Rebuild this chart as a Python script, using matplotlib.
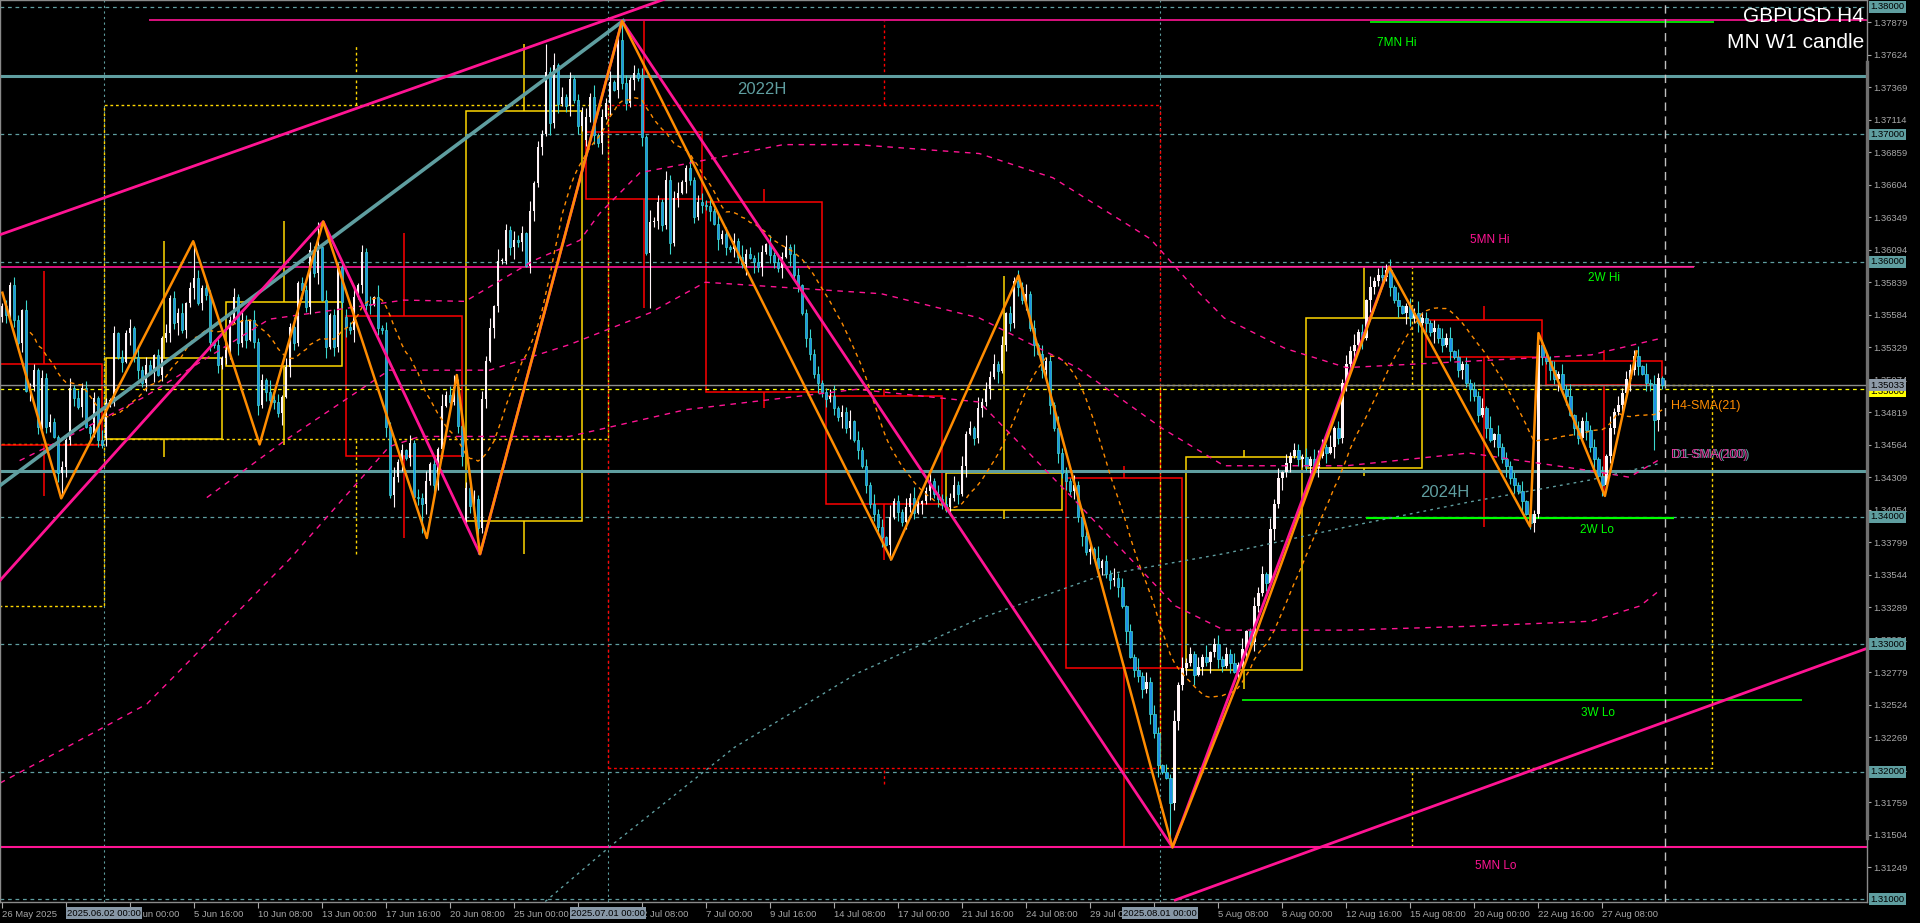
import numpy as np
import pandas as pd
import matplotlib
matplotlib.use("Agg")
import matplotlib.pyplot as plt
from matplotlib import transforms
from matplotlib.patches import Rectangle

# ---- H4 candles: closes in pips above 1.3000, one row ~ one trading day
closes = [
    565, 558, 582, 554, 536, 562, 499, 502, 515, 470.6, 508.5, 470.6, 474.5,
    462.8, 434, 439, 460, 500.7, 492.8, 486.3, 500.7, 470.6, 465.4, 492.8, 460, 456.2,
    489, 491.5, 543.9, 525.5, 521.6, 543.9, 547.8, 525.5, 515.1, 504.6,
    519, 513.8, 526.9, 511.2, 540, 543.9, 571.3, 551.7, 559.6, 546.5, 567.4, 579.2,
    587, 567.4, 579.2, 574, 537.3, 534.7, 519, 524.2, 530.8, 554.3, 572.6, 536,
    554.3, 538.6, 554.3, 537.3, 487.6, 507.2, 498.1, 491.5, 490.2, 481.1, 494.2,
    517.7, 549.1, 536, 583.1, 577.9, 564.8, 609.3, 591, 611.9, 570, 533.4, 558.2,
    533.4, 596.2, 568.7, 549.1, 546.5, 572.6, 581.8, 608, 566.1, 566, 572.6, 547.8,
    546.5, 470.6, 417, 431.4, 443.2, 452.3, 445.8, 457.5, 415.7, 414.4, 410.2,
    427.7, 441, 425, 453.4, 487.2, 495.3, 489.9, 502, 471, 448, 422.3, 408.8,
    414.2, 391.3, 492.6, 522.3, 548, 565.5, 600.7, 601, 625, 611.5, 616.9, 615.5,
    622.3, 596.6, 639.8, 661.5, 689.8, 700.6, 749.3, 708.7, 754.7, 723.6, 729.6,
    722.3, 743.2, 727, 706.6, 717.9, 714, 729.6, 699.5, 693, 714, 724.4, 741.4,
    734.9, 774.1, 740, 724.4, 742.7, 748.5, 744, 698.2, 606.7, 631.5, 632, 647.2,
    628.9, 664.2, 614.5, 649.9, 654.3, 662.9, 673.4, 664.2, 635.5, 647.2, 644.6,
    644, 640, 630, 618, 622, 612,
    610, 616, 604, 598, 606, 603,
    600, 596, 608, 614, 605, 600,
    595, 604, 612, 606, 590, 582,
    560, 540, 528, 512, 505, 498,
    492, 495, 485, 478, 482, 470,
    475, 460, 452, 440, 425, 410,
    402, 392, 384, 378, 400, 412,
    404, 396, 408, 415, 403, 410,
    412, 420, 428, 418, 414, 410,
    408, 415, 425, 418, 440, 465,
    470, 462, 485, 490, 500, 510,
    520, 514, 535, 560, 552, 585,
    580, 570, 575, 548, 535, 528,
    515, 522, 488, 470, 450, 434,
    428, 420, 425, 400, 385, 372,
    375, 368, 360, 365, 355, 350,
    352, 345, 330, 310, 290, 280,
    275, 265, 270, 245, 230, 205,
    200, 195, 175, 240, 268, 281,
    285, 292, 276, 282, 290, 286,
    294, 300, 288, 283, 292, 285,
    278, 284, 296, 310, 302, 330,
    340, 355, 348, 390, 410, 430,
    435, 442, 448, 452, 445, 447,
    440, 445, 438, 448, 455, 450,
    455, 470, 462, 505, 520, 530,
    535, 545, 540, 570, 580, 585,
    590, 588, 594, 580, 570, 565,
    560, 565, 556, 560, 552, 556,
    552, 545, 548, 540, 535, 540,
    530, 525, 515, 520, 505, 500,
    495, 480, 485, 470, 460, 465,
    455, 445, 440, 430, 425, 420,
    412, 402, 395, 402, 535, 525,
    522, 515, 508, 512, 500, 495,
    480, 470, 462, 475, 468, 455,
    445, 432, 425, 448, 470, 482,
    488, 497, 508, 515, 526, 518,
    512, 505, 504, 476, 508.6, 503.3,
]
first_open = 557
open_gaps = {26: 461.5, 86: 556.9, 116: 397.0, 146: 695.6}

# wick lengths in pips, one group per week
wick_up = ("352641 835274 631528 374615 28"
           "426153 728364 152736 481527 364152"
           "537264 183529 461738 254637 182534"
           "648253 719364 825173 648251 937462"
           "527364 819253 746182 537491 826354"
           "739264 815372 648193 527468 139257"
           "462835 173946 285173 649285 137462"
           "358264 917352 846193 527486 139274"
           "647382 519364 827153 948261 735294"
           "528374 619253 847162 938475 163829"
           "463829 157364 829137 562948 173652"
           "738462 915374 826193 574826 137495"
           "526384 917253 648291 736452 819374"
           "647283 915374 628193 746528 193742")
wick_dn = ("462537 183625 417384 628173 52"
           "635281 947362 815374 926381 547263"
           "472936 158274 639185 274638 192745"
           "839264 715382 947163 528394 716258"
           "362947 185236 947158 362947 158264"
           "547382 916453 827194 653827 194536"
           "381947 265381 947265 381946 275384"
           "625384 917263 548192 736451 827364"
           "473829 164738 291564 738291 657384"
           "736482 915637 482916 573849 216574"
           "528163 947528 163947 526183 947256"
           "463728 195463 728195 463728 196475"
           "739462 815739 462815 739462 815736"
           "284937 165284 937165 283947 165293")
spike_high = {48: 615.8, 79: 631.5, 113: 511, 136: 771, 155: 788.5, 254: 589,
              346: 596, 384: 544, 408: 531}
spike_low = {15: 415.7, 105: 387, 119: 371, 162: 564, 222: 366, 292: 141,
             382: 392, 400: 416, 413: 452}

# weekly candles (boxes)
week_start = [-4, 26, 56, 86, 116, 146, 176, 206, 236, 266, 296, 326, 356, 386]
week_open = [520, 461, 518, 557.5, 396.6, 701.7, 647, 495, 405, 430, 280, 438.5, 554, 522]
week_close = [456, 524.5, 568.5, 447.6, 718, 649.6, 498, 410, 434, 281, 447, 555.6, 525, 503.3]
week_high = [593, 616, 632, 622.6, 771, 789, 657, 500, 589, 440, 452, 596, 565, 531]
week_low = [416, 447, 456, 383, 371, 564, 485, 366, 398, 141, 265, 432, 392, 416]

# monthly candles (dotted boxes)
month_start = [-100, 26, 152, 290]
month_end = [26, 152, 290, 428]
month_open = [330, 461, 723, 203]
month_close = [457, 723, 203, 503.3]
month_high = [593, 770, 789, 596]
month_low = [310, 371, 190, 141]

# zigzags (bar, pips)
zz_orange_bar = [0.1, 14.8, 47.8, 64.4, 80.3, 106.2, 113.7, 119.5, 155, 222.3, 254.1,
                 292.6, 310.4, 346.8, 382, 384.1, 400.7, 408.6]
zz_orange_val = [575.8, 414.4, 616.2, 456.7, 631.6, 383.3, 511.2, 370.7, 789, 366.4, 589.3,
                 140.6, 281.8, 596, 392.3, 544.1, 416.3, 529.7]
zz_pink_bar = [-0.5, 80.3, 119.5, 155, 292.6, 346.8]
zz_pink_val = [350, 631.6, 370.7, 789, 140.6, 596]

# trend lines (bar, pips)
tl_upper_bar, tl_upper_val = [-0.5, 170], [621.3, 811]
tl_lower_bar, tl_lower_val = [293.3, 470], [99.2, 301]
tl_cadet_bar, tl_cadet_val = [-0.5, 155.3], [424.5, 789.2]

# daily moving averages (bar, pips)
ma_a_bar = [4.4, 17.9, 35.6, 66.8, 100.5, 115.8, 132.9, 144.5, 149.4, 159.5, 172.7, 195.3,
            213.7, 244.3, 262.7, 287.1, 297.9, 305.5, 320.8, 336.1, 366.7, 397.3, 414.7]
ma_a_val = [444, 465, 494, 555, 570, 569, 601, 617, 638, 670, 678, 692,
            692, 685, 666, 618, 580, 556, 532, 517, 522, 527, 540]
ma_b_bar = [51.2, 70.8, 96.8, 121.9, 141.8, 162, 175.8, 195.3, 219.8, 244.3, 268.8, 290.2,
            305.5, 336.1, 366.7, 397.3, 406.8, 414.4]
ma_b_val = [415, 460, 515, 515, 535, 560, 584, 580, 575, 556, 517, 469,
            440, 440, 450, 436, 431, 445]
ma_c_bar = [-0.5, 36.2, 72, 96.8, 104.5, 141.8, 170.9, 213.7, 244.3, 265.7, 293.3, 305.5,
            336.1, 366.7, 397.3, 409.5, 414.7]
ma_c_val = [191, 253, 367, 455, 463, 463, 484, 500, 490, 421, 330, 311,
            311, 314, 318, 330, 343]
ma_e_bar = [121.9, 152.5, 183.1, 213.7, 244.3, 274.9, 305.5, 336.1, 366.7, 397.3, 414.7]
ma_e_val = [61, 142.5, 219, 277, 320, 354, 371, 392, 411.5, 429, 442]

# axis labels (empty where the label sits under a month marker)
time_tick_labels = ["26 May 2025", "", "3 Jun 00:00", "5 Jun 16:00", "10 Jun 08:00",
                    "13 Jun 00:00", "17 Jun 16:00", "20 Jun 08:00", "25 Jun 00:00", "",
                    "2 Jul 08:00", "7 Jul 00:00", "9 Jul 16:00", "14 Jul 08:00", "17 Jul 00:00",
                    "21 Jul 16:00", "24 Jul 08:00", "29 Jul 00:00", "", "5 Aug 08:00",
                    "8 Aug 00:00", "12 Aug 16:00", "15 Aug 08:00", "20 Aug 00:00", "22 Aug 16:00",
                    "27 Aug 08:00"]
month_marks = ["2025.06.02 00:00", "2025.07.01 00:00", "2025.08.01 00:00"]
month_mark_bars = [26, 152, 290]
price_ticks = [1.37879, 1.37624, 1.37369, 1.37114, 1.36859, 1.36604, 1.36349, 1.36094,
               1.35839, 1.35584, 1.35329, 1.35074, 1.34819, 1.34564, 1.34309, 1.34054,
               1.33799, 1.33544, 1.33289, 1.33034, 1.32779, 1.32524, 1.32269, 1.32014,
               1.31759, 1.31504, 1.31249]
round_levels = [1.38, 1.37, 1.36, 1.34, 1.33, 1.32, 1.31]
bid = 1.35033

BG = "black"
PINK = "#FF1493"
CADET = "#5F9EA0"
ORANGE = "#FF8C00"
GOLD = "#FFD700"
RED = "#FF0000"
GREEN = "#00FF00"
AXIS = "#A8A8A8"
BULL = "#FFF4F7"
BEAR = "#1E90E8"
BEAR_W = "#3CD8D0"
SANS = ["Liberation Sans", "DejaVu Sans"]


def px(v):
    return 1.3 + np.asarray(v, dtype=float) / 1e4


c = np.array(closes, dtype=float)
n = len(c)
o = np.r_[first_open, c[:-1]]
for b, v in open_gaps.items():
    o[b] = v
up = np.array([int(ch) for ch in wick_up.replace(" ", "")][:n], dtype=float)
dn = np.array([int(ch) for ch in wick_dn.replace(" ", "")][:n], dtype=float)
hi = np.maximum(o, c) + up
lo = np.minimum(o, c) - dn
for b, v in spike_high.items():
    hi[b] = max(hi[b], v)
for b, v in spike_low.items():
    lo[b] = min(lo[b], v)
x = np.arange(n)

fig = plt.figure(figsize=(19.2, 9.23), dpi=100, facecolor=BG)
ax = fig.add_axes([0.0, 21 / 923, 1866.5 / 1920, 902 / 923], facecolor=BG)
ax.set_xlim(-0.5, 466.1)
ax.set_ylim(1.309766, 1.380549)

# period separators
for b in month_mark_bars:
    ax.axvline(b - 0.5, color=CADET, lw=0.8, ls=(0, (2, 3)), zorder=0.5)

# monthly boxes
for s, e, mo, mc, mh, ml in zip(month_start, month_end, month_open, month_close, month_high, month_low):
    col = GOLD if mc >= mo else RED
    ax.add_patch(Rectangle((s - 0.5, px(min(mo, mc))), e - s, px(max(mo, mc)) - px(min(mo, mc)),
                           fill=False, ec=col, lw=1, ls=(0, (2, 2)), zorder=0.8))
    mid = (s + min(e, n) - 1) / 2
    ax.vlines(mid, px(max(mo, mc)), px(mh), color=col, lw=1, ls=(0, (2, 2)), zorder=0.8)
    ax.vlines(mid, px(ml), px(min(mo, mc)), color=col, lw=1, ls=(0, (2, 2)), zorder=0.8)

# weekly boxes
for s, wo, wc, wh, wl in zip(week_start, week_open, week_close, week_high, week_low):
    col = GOLD if wc >= wo else RED
    ax.add_patch(Rectangle((s, px(min(wo, wc))), 29, px(max(wo, wc)) - px(min(wo, wc)),
                           fill=False, ec=col, lw=1.1, zorder=1))
    ax.vlines(s + 14.5, px(max(wo, wc)), px(wh), color=col, lw=1.1, zorder=1)
    ax.vlines(s + 14.5, px(wl), px(min(wo, wc)), color=col, lw=1.1, zorder=1)

# horizontal levels
for lv in round_levels:
    ax.axhline(lv, color=CADET, lw=0.9, ls=(0, (3, 3)), zorder=1.2)
ax.axhline(1.35, color="#FFFF00", lw=0.9, ls=(0, (3, 3)), zorder=1.2)
ax.axhline(bid, color="#8C8C8C", lw=1, zorder=1.2)
ax.axhline(1.37458, color=CADET, lw=2.2, zorder=1.3)
ax.axhline(1.34356, color=CADET, lw=2.2, zorder=1.3)
ax.axhline(1.31408, color=PINK, lw=1.5, zorder=1.3)
ax.hlines(1.35958, -0.5, 423, color=PINK, lw=1.2, zorder=1.3)
ax.hlines(1.3597, 241, 423, color="#C8C8C8", lw=0.8, zorder=1.25)
ax.hlines(1.3790, 36.8, 466.1, color=PINK, lw=1.2, zorder=1.3)
ax.hlines(1.3788, 342, 428, color=GREEN, lw=1.2, zorder=1.3)
ax.hlines(1.3399, 341, 418, color=GREEN, lw=1.6, zorder=1.3)
ax.hlines(1.32559, 310, 450, color=GREEN, lw=1.2, zorder=1.3)

# candles
bull = c >= o
bear = ~bull
body_h = np.maximum(np.abs(c - o), 0.8) / 1e4
ax.vlines(x[bull], px(lo[bull]), px(hi[bull]), color=BULL, lw=0.8, zorder=2)
ax.vlines(x[bear], px(lo[bear]), px(hi[bear]), color=BEAR_W, lw=0.8, zorder=2)
ax.bar(x[bull], body_h[bull], bottom=px(o[bull]), width=0.72, color=BULL, lw=0, zorder=2.1)
ax.bar(x[bear], body_h[bear], bottom=px(c[bear]), width=0.72, facecolor=BEAR, edgecolor=BEAR_W,
       lw=0.5, zorder=2.1)

# moving averages
sma21 = pd.Series(c).rolling(21, min_periods=8).mean()
ax.plot(x, px(sma21), color=ORANGE, lw=1, ls=(0, (3, 3)), zorder=2.5)
ax.plot(ma_a_bar, px(ma_a_val), color=PINK, lw=1, ls=(0, (4, 4)), zorder=2.5)
ax.plot(ma_b_bar, px(ma_b_val), color=PINK, lw=1, ls=(0, (4, 4)), zorder=2.5)
ax.plot(ma_c_bar, px(ma_c_val), color=PINK, lw=1, ls=(0, (4, 4)), zorder=2.5)
ax.plot(ma_e_bar, px(ma_e_val), color=CADET, lw=1, ls=(0, (2, 3)), zorder=2.5)

# trend lines and zigzags
ax.plot(tl_cadet_bar, px(tl_cadet_val), color=CADET, lw=2.6, zorder=3)
ax.plot(tl_upper_bar, px(tl_upper_val), color=PINK, lw=2, zorder=3)
ax.plot(tl_lower_bar, px(tl_lower_val), color=PINK, lw=2, zorder=3)
ax.plot(zz_pink_bar, px(zz_pink_val), color=PINK, lw=2, zorder=3.1)
ax.plot(zz_orange_bar, px(zz_orange_val), color=ORANGE, lw=1.8, zorder=3.2)

# current time line
ax.axvline(n - 0.25, color="#C0C0C0", lw=1, ls=(0, (6, 4)), zorder=3)

# level labels
lab = dict(fontfamily=SANS, ha="center", va="center", zorder=5)
ax.text(190, 1.37356, "2022H", color=CADET, fontsize=12, **lab)
ax.text(360.7, 1.34194, "2024H", color=CADET, fontsize=12, **lab)
ax.text(348.6, 1.37717, "7MN Hi", color=GREEN, fontsize=8.5, **lab)
ax.text(372, 1.36170, "5MN Hi", color=PINK, fontsize=8.5, **lab)
ax.text(400.5, 1.35870, "2W Hi", color=GREEN, fontsize=8.5, **lab)
ax.text(398.7, 1.33896, "2W Lo", color=GREEN, fontsize=8.5, **lab)
ax.text(399, 1.32460, "3W Lo", color=GREEN, fontsize=8.5, **lab)
ax.text(373.5, 1.31260, "5MN Lo", color=PINK, fontsize=8.5, **lab)
ax.text(417.3, 1.34869, "H4-SMA(21)", color=ORANGE, fontsize=9, fontfamily=SANS,
        ha="left", va="center", zorder=5)
ax.text(417.8, 1.34484, "D1-SMA(100)", color=CADET, fontsize=9, fontfamily=SANS,
        ha="left", va="center", zorder=5)
ax.text(417.3, 1.34484, "D1-SMA(200)", color="#E0359A", fontsize=9, fontfamily=SANS,
        ha="left", va="center", zorder=5.1)

# title
fig.text(1864 / 1920, 1 - 17 / 923, "GBPUSD H4", color="white", fontsize=15,
         fontfamily=SANS, ha="right", va="center")
fig.text(1864 / 1920, 1 - 43 / 923, "MN W1 candle", color="white", fontsize=15,
         fontfamily=SANS, ha="right", va="center")

# axes styling
for sp in ax.spines.values():
    sp.set_color("#8A8A8A")
    sp.set_linewidth(1)
ax.yaxis.tick_right()
ax.set_yticks(price_ticks)
ax.set_yticklabels([f"{v:.5f}" for v in price_ticks])
ax.tick_params(axis="y", colors=AXIS, length=3, width=0.8, pad=2, labelsize=6.8)
ax.set_xticks(np.arange(len(time_tick_labels)) * 16)
ax.set_xticklabels(time_tick_labels)
ax.tick_params(axis="x", colors=AXIS, length=4, width=0.8, pad=2, labelsize=6.8)
for t in ax.get_xticklabels() + ax.get_yticklabels():
    t.set_fontfamily(SANS)
for t in ax.get_xticklabels():
    t.set_ha("left")

ytr = transforms.offset_copy(ax.get_yaxis_transform(), fig=fig, x=4, y=0, units="dots")
box = dict(boxstyle="square,pad=0.15", ec="none")
for lv in round_levels:
    ax.text(1.0, lv, f"{lv:.5f}", transform=ytr, color="black", fontsize=6.8, fontfamily=SANS,
            ha="left", va="center", bbox=dict(fc=CADET, **box), clip_on=False, zorder=6)
ax.text(1.0, 1.34985, "1.35000", transform=ytr, color="black", fontsize=6.8, fontfamily=SANS,
        ha="left", va="center", bbox=dict(fc="#FFFF00", **box), clip_on=False, zorder=6)
ax.text(1.0, bid, f"{bid:.5f}", transform=ytr, color="black", fontsize=6.8, fontfamily=SANS,
        ha="left", va="center", bbox=dict(fc="#8E9BA8", **box), clip_on=False, zorder=6.1)

xtr = transforms.blended_transform_factory(ax.transData, ax.transAxes)
for b, s in zip(month_mark_bars, month_marks):
    ax.text(b - 0.5, -0.0125, s, transform=xtr, color="black", fontsize=6.8, fontfamily=SANS,
            ha="center", va="center", bbox=dict(fc="#8797A6", **box), clip_on=False, zorder=6)

fig.add_artist(plt.Line2D([1867 / 1920, 1867 / 1920], [1 - 62 / 923, 1 - 838 / 923],
                          color="#707070", lw=2.4, transform=fig.transFigure))

fig.savefig("out.png", dpi=100, facecolor=BG)
